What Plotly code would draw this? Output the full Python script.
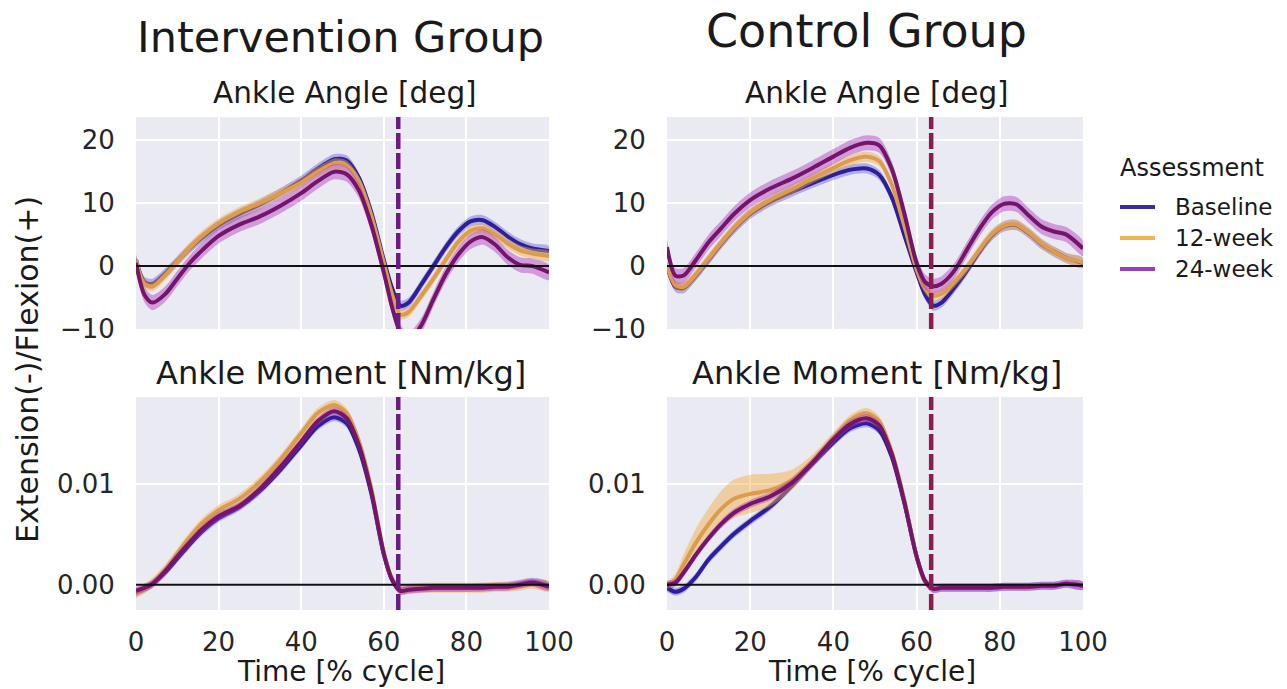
import plotly.graph_objects as go

# ---------------- data ----------------
PCT = [0, 2, 4, 7, 10, 13, 16, 20, 25, 30, 35, 40, 44, 48, 51, 54, 57, 60, 62, 64,
       66, 69, 72, 75, 78, 81, 84, 87, 90, 93, 96, 100]
GROUPS = ["Intervention Group", "Control Group"]
ASSESSMENTS = ["Baseline", "12-week", "24-week"]
TOE_OFF = [63.5, 63.5]

# Intervention - ankle angle [deg]
int_ang_base = [1.0, -2.5, -2.8, -1.2, 0.8, 2.8, 4.5, 6.5, 8.3, 9.8, 11.6, 13.6, 15.5, 17.0, 16.8, 14.0,
                8.5, 1.0, -3.5, -6.3, -5.8, -3.0, 0.0, 3.0, 5.5, 7.1, 7.3, 6.2, 4.7, 3.5, 2.8, 2.4]
int_ang_12 = [1.0, -2.8, -3.2, -1.5, 0.7, 2.9, 4.8, 6.8, 8.6, 10.0, 11.6, 13.3, 15.0, 16.3, 16.0, 13.5,
              8.0, 0.5, -4.5, -7.7, -7.3, -4.8, -2.0, 1.0, 3.8, 5.6, 6.0, 5.0, 3.6, 2.5, 2.0, 1.6]
int_ang_24 = [0.5, -4.5, -5.8, -4.5, -2.0, 0.5, 2.5, 4.8, 6.6, 7.9, 9.6, 11.6, 13.5, 15.0, 14.6, 12.0,
              6.5, -1.0, -6.5, -10.5, -11.8, -9.5, -5.3, -1.3, 1.8, 3.9, 4.6, 3.4, 1.4, 0.2, 0.0, -1.0]
# Control - ankle angle [deg]
ctl_ang_base = [0.0, -3.3, -3.5, -1.5, 1.0, 3.5, 5.8, 8.3, 10.3, 11.8, 13.2, 14.5, 15.3, 15.5, 14.5, 11.0,
                5.0, -1.0, -4.5, -6.3, -5.8, -3.5, -0.8, 2.2, 4.8, 6.3, 6.5, 5.2, 3.5, 2.3, 1.3, 0.5]
ctl_ang_12 = [0.0, -3.0, -3.3, -1.3, 1.2, 3.7, 6.0, 8.5, 10.6, 12.2, 14.0, 15.6, 16.8, 17.4, 16.7, 13.0,
              6.5, -0.5, -3.5, -4.7, -4.4, -2.6, -0.3, 2.5, 5.0, 6.4, 6.6, 5.3, 3.6, 2.3, 1.3, 0.6]
ctl_ang_24 = [3.0, -1.5, -1.5, 1.0, 3.8, 6.0, 8.2, 10.5, 12.4, 13.9, 15.6, 17.4, 18.8, 19.6, 19.2, 15.5,
              8.5, 0.5, -2.5, -3.2, -2.8, -0.8, 2.5, 5.8, 8.5, 9.9, 9.8, 8.0, 6.3, 5.5, 5.0, 2.8]
# Intervention - ankle moment [Nm/kg]
int_mom_base = [-0.0008, -0.0004, 0.0001, 0.0012, 0.0026, 0.0040, 0.0053, 0.0066, 0.0077, 0.0093, 0.0114,
                0.0138, 0.0157, 0.0166, 0.0160, 0.0134, 0.0090, 0.0030, 0.0005, -0.0005, -0.0004, -0.0003,
                -0.0003, -0.0003, -0.0003, -0.0003, -0.0002, -0.0002, -0.0001, 0.0001, 0.0003, -0.0001]
int_mom_12 = [-0.0008, -0.0004, 0.0002, 0.0015, 0.0031, 0.0047, 0.0061, 0.0074, 0.0085, 0.0102, 0.0124,
              0.0150, 0.0170, 0.0178, 0.0170, 0.0142, 0.0095, 0.0032, 0.0006, -0.0005, -0.0004, -0.0003,
              -0.0003, -0.0003, -0.0003, -0.0003, -0.0003, -0.0002, -0.0002, -0.0001, 0.0001, -0.0002]
int_mom_24 = [-0.0006, -0.0003, 0.0001, 0.0013, 0.0028, 0.0042, 0.0055, 0.0068, 0.0078, 0.0095, 0.0117,
              0.0142, 0.0162, 0.0172, 0.0165, 0.0138, 0.0092, 0.0031, 0.0005, -0.0006, -0.0005, -0.0004,
              -0.0003, -0.0003, -0.0003, -0.0003, -0.0003, -0.0002, -0.0002, 0.0000, 0.0002, -0.0002]
# Control - ankle moment [Nm/kg]
ctl_mom_base = [-0.0003, -0.0007, -0.0004, 0.0008, 0.0025, 0.0038, 0.0050, 0.0063, 0.0078, 0.0098, 0.0120,
                0.0141, 0.0155, 0.0160, 0.0153, 0.0127, 0.0082, 0.0028, 0.0004, -0.0004, -0.0003, -0.0003,
                -0.0003, -0.0003, -0.0003, -0.0002, -0.0002, -0.0002, -0.0001, -0.0001, 0.0001, -0.0001]
ctl_mom_12 = [0.0000, 0.0005, 0.0020, 0.0042, 0.0060, 0.0075, 0.0085, 0.0090, 0.0094, 0.0104, 0.0123,
              0.0146, 0.0163, 0.0170, 0.0162, 0.0132, 0.0085, 0.0028, 0.0003, -0.0004, -0.0003, -0.0003,
              -0.0003, -0.0003, -0.0003, -0.0002, -0.0002, -0.0002, -0.0001, -0.0001, 0.0001, -0.0001]
ctl_mom_24 = [0.0000, 0.0002, 0.0012, 0.0030, 0.0046, 0.0060, 0.0071, 0.0080, 0.0088, 0.0101, 0.0121,
              0.0144, 0.0159, 0.0165, 0.0158, 0.0130, 0.0083, 0.0028, 0.0004, -0.0004, -0.0003, -0.0003,
              -0.0003, -0.0003, -0.0003, -0.0002, -0.0002, -0.0002, -0.0001, -0.0001, 0.0001, -0.0001]

# spread (half-width of shaded band)
ANG_SD = [0.8, 0.8, 1.2]
MOM_SD = [0.0004, 0.0005, 0.0004]
ctl_mom_12_sd = [0.0003, 0.0006, 0.0010, 0.0014, 0.0016, 0.0018, 0.0019, 0.0019, 0.0016, 0.0010, 0.0006,
                 0.0005, 0.0005, 0.0005, 0.0005, 0.0004, 0.0003, 0.0002, 0.0002, 0.0001, 0.0001, 0.0001,
                 0.0001, 0.0001, 0.0001, 0.0001, 0.0001, 0.0001, 0.0001, 0.0001, 0.0001, 0.0001]

ANG_RANGE = [-10, 23.7]
MOM_RANGE = [-0.0025, 0.0186]
ANG_TICKS = [-10, 0, 10, 20]
MOM_TICKS = [0.0, 0.01]
MOM_TICKTEXT = ["0.00", "0.01"]
X_TICKS = [0, 20, 40, 60, 80, 100]

# ---------------- style ----------------
LINE_COLORS = ["#2c1f9a", "#dc9c4e", "#74146a"]
BAND_COLORS = ["rgba(85,70,225,0.38)", "rgba(245,172,60,0.45)", "rgba(175,60,190,0.45)"]
LEGEND_COLORS = ["#3a2c9c", "#f0b552", "#9b3db5"]
DASH_COLORS = ["#6a1b84", "#8a1c4e"]
FONT = "DejaVu Sans"
W, H = 1287, 689

def px_x(p):
    return p / W

def px_y(p):
    return 1 - p / H

fig = go.Figure()

panels = [
    ("x", "y", [int_ang_base, int_ang_12, int_ang_24], [[s] * len(PCT) for s in ANG_SD], 0),
    ("x2", "y2", [ctl_ang_base, ctl_ang_12, ctl_ang_24], [[s] * len(PCT) for s in ANG_SD], 1),
    ("x3", "y3", [int_mom_base, int_mom_12, int_mom_24], [[s] * len(PCT) for s in MOM_SD], 0),
    ("x4", "y4", [ctl_mom_base, ctl_mom_12, ctl_mom_24],
     [[MOM_SD[0]] * len(PCT), ctl_mom_12_sd, [MOM_SD[2]] * len(PCT)], 1),
]

for xa, ya, series, sds, g in panels:
    for i, (vals, sd) in enumerate(zip(series, sds)):
        upper = [v + s for v, s in zip(vals, sd)]
        lower = [v - s for v, s in zip(vals, sd)]
        fig.add_trace(go.Scatter(
            x=PCT + PCT[::-1], y=upper + lower[::-1], xaxis=xa, yaxis=ya,
            fill="toself", fillcolor=BAND_COLORS[i], line=dict(width=0, shape="spline", smoothing=0.8),
            mode="lines", hoverinfo="skip", showlegend=False))
        fig.add_trace(go.Scatter(
            x=PCT, y=vals, xaxis=xa, yaxis=ya, mode="lines", name=ASSESSMENTS[i],
            line=dict(color=LINE_COLORS[i], width=4, shape="spline", smoothing=0.8),
            showlegend=False))
    fig.add_trace(go.Scatter(x=[X_TICKS[0], X_TICKS[-1]], y=[0, 0], xaxis=xa, yaxis=ya, mode="lines",
                             line=dict(color="#111111", width=2), showlegend=False, hoverinfo="skip"))
    yr = ANG_RANGE if ya in ("y", "y2") else MOM_RANGE
    fig.add_trace(go.Scatter(x=[TOE_OFF[g], TOE_OFF[g]], y=yr, xaxis=xa, yaxis=ya, mode="lines",
                             line=dict(color=DASH_COLORS[g], width=4.5, dash="16px,4px"),
                             showlegend=False, hoverinfo="skip"))

LEFT = [px_x(136), px_x(549)]
RIGHT = [px_x(667), px_x(1083)]
TOP = [px_y(329), px_y(117)]
BOT = [px_y(610), px_y(397)]

common_x = dict(range=[0, 100], tickvals=X_TICKS, showgrid=True, gridcolor="white", gridwidth=1.8,
                zeroline=False, showline=False, ticks="outside", ticklen=9, tickcolor="rgba(0,0,0,0)",
                automargin=False, tickfont=dict(family=FONT, size=26, color="#262626"))
common_y = dict(showgrid=True, gridcolor="white", gridwidth=1.8, zeroline=False, showline=False,
                ticks="outside", ticklen=15, tickcolor="rgba(0,0,0,0)", automargin=False,
                tickfont=dict(family=FONT, size=26, color="#262626"))

fig.update_layout(
    width=W, height=H, margin=dict(l=0, r=0, t=0, b=0, autoexpand=False),
    paper_bgcolor="white", plot_bgcolor="#eaeaf2",
    font=dict(family=FONT, color="#262626"),
    showlegend=False,
    xaxis=dict(domain=LEFT, anchor="y", showticklabels=False, **common_x),
    xaxis2=dict(domain=RIGHT, anchor="y2", showticklabels=False, **common_x),
    xaxis3=dict(domain=LEFT, anchor="y3", **common_x),
    xaxis4=dict(domain=RIGHT, anchor="y4", **common_x),
    yaxis=dict(domain=TOP, anchor="x", range=ANG_RANGE, tickvals=ANG_TICKS, **common_y),
    yaxis2=dict(domain=TOP, anchor="x2", range=ANG_RANGE, tickvals=ANG_TICKS, **common_y),
    yaxis3=dict(domain=BOT, anchor="x3", range=MOM_RANGE, tickvals=MOM_TICKS, ticktext=MOM_TICKTEXT, **common_y),
    yaxis4=dict(domain=BOT, anchor="x4", range=MOM_RANGE, tickvals=MOM_TICKS, ticktext=MOM_TICKTEXT, **common_y),
)

def text(x, y, s, size, **kw):
    fig.add_annotation(x=px_x(x), y=px_y(y), xref="paper", yref="paper", text=s, showarrow=False,
                       font=dict(family=FONT, size=size, color=kw.pop("color", "#1a1a1a")),
                       xanchor=kw.pop("xanchor", "center"), yanchor="middle", **kw)

text(340, 37, GROUPS[0], 43)
text(866, 31, GROUPS[1], 46)
text(345, 93, "Ankle Angle [deg]", 29.5)
text(877, 93, "Ankle Angle [deg]", 29.5)
text(341, 373, "Ankle Moment [Nm/kg]", 32)
text(877, 373, "Ankle Moment [Nm/kg]", 32)
text(341, 671, "Time [% cycle]", 28)
text(872, 671, "Time [% cycle]", 28)
text(27, 370, "Extension(-)/Flexion(+)", 30, textangle=-90)

# legend (drawn manually)
text(1192, 168, "Assessment", 24)
for i, name in enumerate(ASSESSMENTS):
    yy = 207 + 31 * i
    fig.add_shape(type="line", xref="paper", yref="paper", x0=px_x(1120), x1=px_x(1155),
                  y0=px_y(yy), y1=px_y(yy), line=dict(color=LEGEND_COLORS[i], width=4))
    text(1173, yy, name, 23, xanchor="left")

fig.write_html("out.html", config={"displayModeBar": False},
               post_script="document.body.style.margin='0';document.body.style.overflow='hidden';")
